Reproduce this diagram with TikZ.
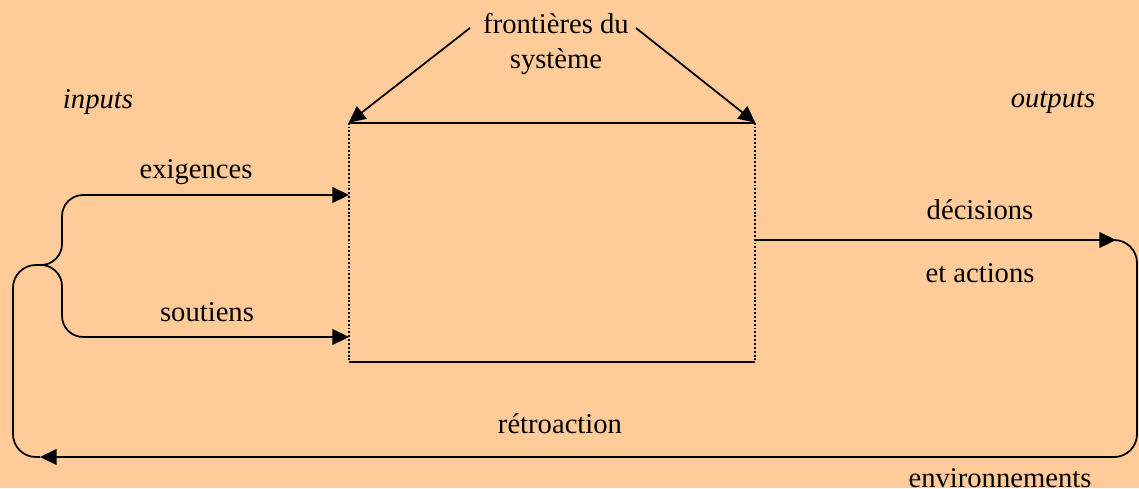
\documentclass[tikz,border=0pt]{standalone}
\usepackage{fontspec}
\setmainfont{Liberation Serif}
\usetikzlibrary{positioning, arrows.meta}
\definecolor{peach}{RGB}{255,204,153}

\begin{document}
\begin{tikzpicture}[
    x=0.02cm, y=-0.02cm,
    lbl/.style={font=\fontsize{16.3}{19.5}\selectfont, inner sep=0pt},
    line/.style={line width=1pt},
    arrow/.style={-{Triangle[length=9.5pt, width=9pt]}, line width=1pt},
    bound/.style={line width=1.1pt, dash pattern=on 1.1pt off 1.1pt},
    loop/.style={line width=1pt, rounded corners=13pt}
]

    % Background
    \fill[peach] (0,0) rectangle (1139,488);

    % System box
    \node[minimum width=8.12cm, minimum height=4.78cm, inner sep=0pt] (sys) at (552,242.5) {};
    \draw[line] (sys.north west) -- (sys.north east);
    \draw[line] (sys.south west) -- (sys.south east);
    \draw[bound] (sys.north west) -- (sys.south west);
    \draw[bound] (sys.north east) -- (sys.south east);

    % Boundaries label
    \node[lbl, align=center] (front) at (556,44) {fronti\`eres du\\syst\`eme};
    \coordinate (fL) at (470,28);
    \coordinate (fR) at (636,28);
    \draw[arrow] (fL) -- (sys.north west);
    \draw[arrow] (fR) -- (sys.north east);

    % Inputs / outputs
    \node[lbl, font=\fontsize{16.3}{19.5}\selectfont\itshape] (inputs) at (98,102) {inputs};
    \node[lbl, font=\fontsize{16.3}{19.5}\selectfont\itshape] (outputs) at (1053,102) {outputs};

    % Input brace
    \coordinate (cusp) at (38,265);
    \coordinate (inA) at (349,195);
    \coordinate (inB) at (349,337);
    \draw[line, rounded corners=12pt] (cusp) -| (62,195) -- (200,195);
    \draw[line, rounded corners=12pt] (cusp) -| (62,337) -- (200,337);
    \draw[arrow] (200,195) -- (inA);
    \draw[arrow] (200,337) -- (inB);
    \node[lbl] (exig) at (196,172) {exigences};
    \node[lbl] (sout) at (207,312) {soutiens};

    % Output
    \coordinate (outS) at (755,240);
    \coordinate (outE) at (1116,240);
    \draw[arrow] (outS) -- (outE);
    \node[lbl] (dec) at (980,210) {d\'ecisions};
    \node[lbl] (act) at (980,273) {et actions};

    % Feedback loop
    \coordinate (fbS) at (1116,457);
    \coordinate (fbE) at (40,457);
    \draw[loop] (outE) -| (1137,457) -- (fbS);
    \draw[arrow] (fbS) -- (fbE);
    \draw[loop] (fbE) -| (13,265) -- (cusp);
    \node[lbl] (retro) at (560,424) {r\'etroaction};
    \node[lbl] (env) at (1000,478) {environnements};

\end{tikzpicture}
\end{document}
